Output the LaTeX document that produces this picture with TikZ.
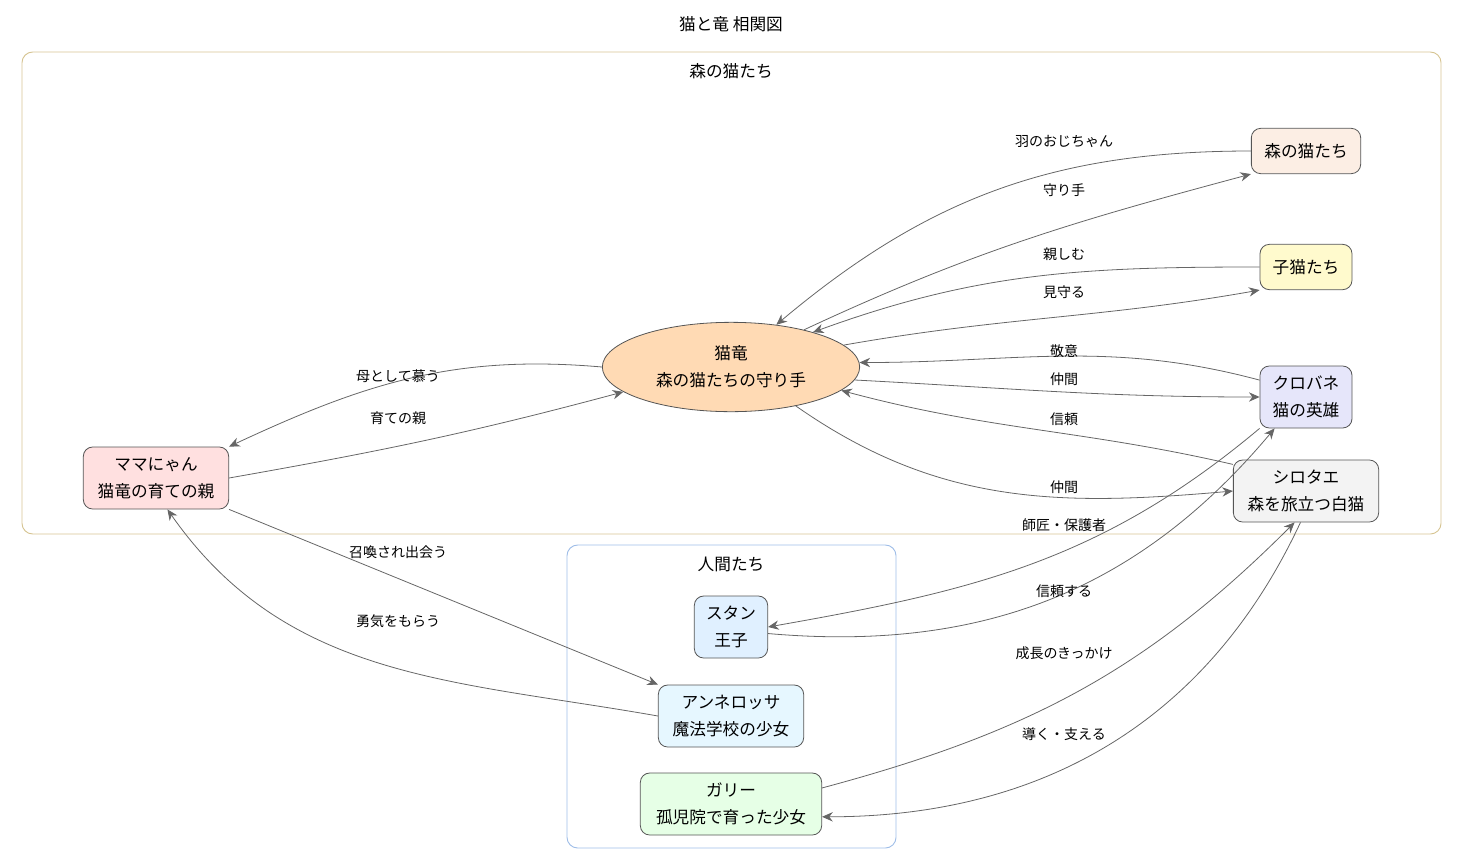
\documentclass[tikz,border=0pt]{standalone}
\usepackage{fontspec}
\setmainfont{Noto Sans CJK JP}
\usetikzlibrary{shapes.geometric,arrows.meta}
\definecolor{edgegray}{HTML}{666666}
\definecolor{boxline}{HTML}{555555}
\tikzset{
  person/.style={draw=boxline, line width=0.6pt, rounded corners=7pt, align=center, font=\fontsize{12.5}{20}\selectfont, minimum height=46.5pt, inner sep=3pt},
  rel/.style={-{Stealth[length=8pt,width=7pt]}, draw=edgegray, line width=0.6pt},
  lbl/.style={font=\fontsize{10.5}{12}\selectfont},
  cluster/.style={rounded corners=8pt, line width=0.7pt}
}
\begin{document}
\begin{tikzpicture}[x=0.75pt,y=-0.75pt]
\useasboundingbox (0,0) rectangle (1463,864);
% clusters
\draw[cluster, draw={rgb,255:red,214;green,196;blue,146}] (22,52) rectangle (1441,534);
\draw[cluster, draw={rgb,255:red,160;green,190;blue,232}] (567,545) rectangle (896,848);
\node[font=\fontsize{12.5}{14}\selectfont] (title) at (731,24) {猫と竜 相関図};
\node[font=\fontsize{12.5}{14}\selectfont] (forestlbl) at (731,71) {森の猫たち};
\node[font=\fontsize{12.5}{14}\selectfont] (humanlbl) at (731,564) {人間たち};
% nodes
\node[ellipse, draw=boxline, line width=0.6pt, fill={rgb,255:red,255;green,218;blue,180}, minimum width=193pt, minimum height=67pt, align=center, font=\fontsize{12.5}{20}\selectfont] (dragon) at (731,367) {猫竜\\森の猫たちの守り手};
\node[person, fill={rgb,255:red,252;green,238;blue,228}, minimum height=34pt, minimum width=82pt] (forestcats) at (1306,151) {森の猫たち};
\node[person, fill={rgb,255:red,255;green,250;blue,205}, minimum height=34pt, minimum width=69pt] (kittens) at (1306,267) {子猫たち};
\node[person, fill={rgb,255:red,230;green,230;blue,250}, minimum width=69pt] (kurobane) at (1306,397) {クロバネ\\猫の英雄};
\node[person, fill={rgb,255:red,243;green,243;blue,243}, minimum width=109pt] (shirotae) at (1306,491) {シロタエ\\森を旅立つ白猫};
\node[person, fill={rgb,255:red,255;green,224;blue,224}, minimum width=109pt] (mama) at (156,478) {ママにゃん\\猫竜の育ての親};
\node[person, fill={rgb,255:red,224;green,240;blue,255}, minimum width=55pt] (stan) at (731,627) {スタン\\王子};
\node[person, fill={rgb,255:red,230;green,247;blue,255}, minimum width=109pt] (anne) at (731,716) {アンネロッサ\\魔法学校の少女};
\node[person, fill={rgb,255:red,230;green,255;blue,230}, minimum width=136pt] (garry) at (731,804) {ガリー\\孤児院で育った少女};
% relations
\draw[rel] (forestcats.west) to[out=180,in=40] (dragon.43);
\draw[rel] (dragon.27) to[out=25,in=195] (forestcats.south west);
\draw[rel] (kittens.west) to[out=180,in=20] (dragon.23);
\draw[rel] (dragon.11) to[out=10,in=190] (kittens.south west);
\draw[rel] (kurobane.160) to[out=165,in=0] (dragon.2);
\draw[rel] (dragon.-6) to[out=-3,in=180] (kurobane.west);
\draw[rel] (shirotae.160) to[out=167,in=-15] (dragon.-12);
\draw[rel] (dragon.-31) to[out=-35,in=185] (shirotae.west);
\draw[rel] (dragon.west) to[out=175,in=25] (mama.north east);
\draw[rel] (mama.east) to[out=10,in=195] (dragon.193);
\draw[rel] (mama.south east) -- (anne.north west);
\draw[rel] (anne.west) to[out=170,in=-55] (mama.-70);
\draw[rel] (kurobane.south west) to[out=-140,in=10] (stan.east);
\draw[rel] (stan.-10) to[out=-5,in=-130] (kurobane.-135);
\draw[rel] (garry.10) to[out=15,in=-135] (shirotae.-110);
\draw[rel] (shirotae.-100) to[out=-115,in=0] (garry.-8);
% labels
\node[lbl] (l1) at (1064,141) {羽のおじちゃん};
\node[lbl] (l2) at (1064,190) {守り手};
\node[lbl] (l3) at (1064,254) {親しむ};
\node[lbl] (l4) at (1064,292) {見守る};
\node[lbl] (l5) at (1064,351) {敬意};
\node[lbl] (l6) at (1064,379) {仲間};
\node[lbl] (l7) at (1064,419) {信頼};
\node[lbl] (l8) at (1064,487) {仲間};
\node[lbl] (l9) at (398,376) {母として慕う};
\node[lbl] (l10) at (398,418) {育ての親};
\node[lbl] (l11) at (398,552) {召喚され出会う};
\node[lbl] (l12) at (398,621) {勇気をもらう};
\node[lbl] (l13) at (1064,525) {師匠・保護者};
\node[lbl] (l14) at (1064,591) {信頼する};
\node[lbl] (l15) at (1064,653) {成長のきっかけ};
\node[lbl] (l16) at (1064,734) {導く・支える};
\end{tikzpicture}
\end{document}
